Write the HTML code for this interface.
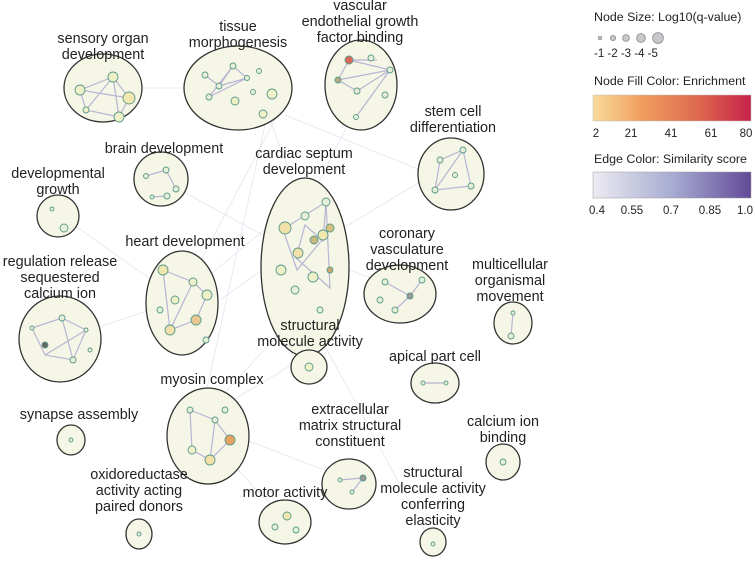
<!DOCTYPE html>
<html><head><meta charset="utf-8"><style>
body{margin:0;background:#fff}
svg text{font-family:"Liberation Sans",sans-serif;fill:#222}
</style></head><body>
<svg width="755" height="558" viewBox="0 0 755 558" xmlns="http://www.w3.org/2000/svg">
<defs>
<linearGradient id="g1" x1="0" x2="1"><stop offset="0" stop-color="#f9dc9c"/><stop offset="0.3" stop-color="#f0a060"/><stop offset="0.65" stop-color="#de6b50"/><stop offset="1" stop-color="#c8224a"/></linearGradient>
<linearGradient id="g2" x1="0" x2="1"><stop offset="0" stop-color="#ecebf1"/><stop offset="0.5" stop-color="#a8acd2"/><stop offset="1" stop-color="#624a98"/></linearGradient>
</defs>
<g stroke="#d8d8ea" stroke-width="0.8" opacity="0.7" fill="none">
<path d="M270 120 L300 200 M280 110 L180 300 M285 115 L420 170 M265 125 L200 420 M300 200 L180 300 M310 300 L200 420 M300 250 L400 290 M360 100 L310 200 M140 88 L190 88 M180 300 L60 340 M200 420 L300 360 M290 260 L440 170 M220 300 L290 250 M210 440 L285 520 M300 300 L430 540 M160 179 L290 250 M60 215 L180 300 M220 430 L350 480"/>
</g>
<g fill="#f6f6e6" stroke="#333" stroke-width="1.3">
<ellipse cx="103" cy="88" rx="39" ry="34"/>
<ellipse cx="238" cy="88" rx="54" ry="42"/>
<ellipse cx="361" cy="85" rx="36" ry="45"/>
<ellipse cx="451" cy="174" rx="33" ry="36"/>
<ellipse cx="161" cy="179" rx="27" ry="27"/>
<ellipse cx="58" cy="216" rx="21" ry="21"/>
<ellipse cx="305" cy="267" rx="44" ry="89"/>
<ellipse cx="400" cy="294" rx="36" ry="29"/>
<ellipse cx="513" cy="323" rx="19" ry="21"/>
<ellipse cx="182" cy="303" rx="36" ry="52"/>
<ellipse cx="60" cy="339" rx="41" ry="43"/>
<ellipse cx="309" cy="367" rx="18" ry="17"/>
<ellipse cx="435" cy="383" rx="24" ry="20"/>
<ellipse cx="208" cy="436" rx="41" ry="48"/>
<ellipse cx="71" cy="440" rx="14" ry="15"/>
<ellipse cx="349" cy="484" rx="27" ry="25"/>
<ellipse cx="503" cy="462" rx="17" ry="18"/>
<ellipse cx="139" cy="534" rx="13" ry="15"/>
<ellipse cx="285" cy="522" rx="26" ry="22"/>
<ellipse cx="433" cy="542" rx="13" ry="14"/>
</g>
<g stroke="#b8b4d4" stroke-width="1.2" fill="none">
<path d="M80 90 L113 77 L129 98 L119 117 L86 110 Z M80 90 L129 98 M113 77 L119 117 M86 110 L113 77"/>
<path d="M205 75 L219 86 L233 66 L247 78 L209 97 M219 86 L247 78 M233 66 L209 97"/>
<path d="M377 60 L349 60 L338 80 L357 91 L390 70 L356 117 M349 60 L390 70 M338 80 L390 70"/>
<path d="M146 176 L166 170 L176 189 M152 197 L167 196"/>
<path d="M285 228 L326 202 L330 288 L296 258 L305 225 L322 240 L297 270 L282 227 M326 202 L323 242"/>
<path d="M440 160 L463 150 L471 186 L435 190 L440 160 M463 150 L435 190"/>
<path d="M163 270 L193 282 L207 295 L196 320 L170 330 L163 270 M193 282 L170 330"/>
<path d="M32 328 L62 318 L86 330 L73 360 L45 355 L32 328 M62 318 L73 360 M45 355 L86 330"/>
<path d="M190 410 L215 420 L230 440 L210 460 L192 450 L190 410 M215 420 L210 460"/>
<path d="M385 282 L410 296 L395 310 M422 280 L410 296"/>
<path d="M423 383 L446 383 M513 313 L511 336 M340 480 L363 478 L352 492"/>
</g>
<g stroke="#5a9a8a" stroke-width="0.9">
<circle cx="80" cy="90" r="5" fill="#eef0c8"/><circle cx="113" cy="77" r="5" fill="#eef0c8"/><circle cx="129" cy="98" r="6" fill="#f1e7b0"/><circle cx="119" cy="117" r="5" fill="#eef0c8"/><circle cx="86" cy="110" r="3" fill="#eef0c8"/>
<circle cx="205" cy="75" r="3" fill="#e6f0d8"/><circle cx="219" cy="86" r="3" fill="#e6f0d8"/><circle cx="233" cy="66" r="3" fill="#e6f0d8"/><circle cx="247" cy="78" r="2.5" fill="#e6f0d8"/><circle cx="209" cy="97" r="3" fill="#e6f0d8"/><circle cx="259" cy="71" r="2.5" fill="#e6f0d8"/><circle cx="253" cy="92" r="2.5" fill="#e6f0d8"/><circle cx="272" cy="94" r="5" fill="#eef0c8"/><circle cx="235" cy="101" r="4" fill="#eef0c8"/><circle cx="263" cy="114" r="4" fill="#eef0c8"/>
<circle cx="349" cy="60" r="4" fill="#d96a5a"/><circle cx="371" cy="58" r="3" fill="#e6f0d8"/><circle cx="338" cy="80" r="3" fill="#b8a880"/><circle cx="357" cy="91" r="3" fill="#e6f0d8"/><circle cx="390" cy="70" r="3" fill="#e6f0d8"/><circle cx="356" cy="117" r="2.5" fill="#e6f0d8"/><circle cx="385" cy="95" r="3" fill="#e6f0d8"/>
<circle cx="146" cy="176" r="2.5" fill="#e6f0d8"/><circle cx="166" cy="170" r="3" fill="#e6f0d8"/><circle cx="176" cy="189" r="3" fill="#e6f0d8"/><circle cx="152" cy="197" r="2" fill="#e6f0d8"/><circle cx="167" cy="196" r="3" fill="#e6f0d8"/>
<circle cx="52" cy="209" r="2" fill="#e6f0d8"/><circle cx="64" cy="228" r="4" fill="#e6f0d8"/>
<circle cx="326" cy="202" r="4" fill="#e6f0d8"/><circle cx="305" cy="216" r="4" fill="#e6f0d8"/><circle cx="285" cy="228" r="6" fill="#f1e0a8"/><circle cx="330" cy="228" r="4" fill="#d8c080"/><circle cx="323" cy="235" r="5" fill="#f1e7b0"/><circle cx="314" cy="240" r="4" fill="#c8b880"/><circle cx="298" cy="253" r="5" fill="#f1e0a8"/><circle cx="281" cy="270" r="5" fill="#eef0c8"/><circle cx="330" cy="270" r="3" fill="#c8a870"/><circle cx="313" cy="277" r="5" fill="#eef0c8"/><circle cx="295" cy="290" r="4" fill="#e6f0d8"/><circle cx="320" cy="310" r="3" fill="#e6f0d8"/>
<circle cx="440" cy="160" r="3" fill="#e6f0d8"/><circle cx="463" cy="150" r="3" fill="#e6f0d8"/><circle cx="471" cy="186" r="3" fill="#e6f0d8"/><circle cx="435" cy="190" r="3" fill="#e6f0d8"/><circle cx="455" cy="175" r="2.5" fill="#e6f0d8"/>
<circle cx="163" cy="270" r="5" fill="#f1e7b0"/><circle cx="193" cy="282" r="4" fill="#eef0c8"/><circle cx="207" cy="295" r="5" fill="#eef0c8"/><circle cx="196" cy="320" r="5" fill="#e8c890"/><circle cx="170" cy="330" r="5" fill="#f1e0a8"/><circle cx="175" cy="300" r="4" fill="#eef0c8"/><circle cx="206" cy="340" r="3" fill="#e6f0d8"/><circle cx="160" cy="310" r="3" fill="#e6f0d8"/>
<circle cx="32" cy="328" r="2" fill="#e6f0d8"/><circle cx="62" cy="318" r="3" fill="#e6f0d8"/><circle cx="86" cy="330" r="2" fill="#e6f0d8"/><circle cx="73" cy="360" r="3" fill="#e6f0d8"/><circle cx="45" cy="345" r="3" fill="#666"/><circle cx="90" cy="350" r="2" fill="#e6f0d8"/>
<circle cx="309" cy="367" r="4" fill="#eef0c8"/>
<circle cx="385" cy="282" r="3" fill="#e6f0d8"/><circle cx="410" cy="296" r="3" fill="#999"/><circle cx="395" cy="310" r="3" fill="#e6f0d8"/><circle cx="422" cy="280" r="3" fill="#e6f0d8"/><circle cx="380" cy="300" r="3" fill="#e6f0d8"/>
<circle cx="513" cy="313" r="2" fill="#e6f0d8"/><circle cx="511" cy="336" r="3" fill="#e6f0d8"/>
<circle cx="423" cy="383" r="2" fill="#e6f0d8"/><circle cx="446" cy="383" r="2" fill="#e6f0d8"/>
<circle cx="190" cy="410" r="3" fill="#e6f0d8"/><circle cx="215" cy="420" r="3" fill="#e6f0d8"/><circle cx="230" cy="440" r="5" fill="#e8a060"/><circle cx="210" cy="460" r="5" fill="#f1e0a8"/><circle cx="192" cy="450" r="4" fill="#eef0c8"/><circle cx="225" cy="410" r="3" fill="#e6f0d8"/>
<circle cx="71" cy="440" r="2" fill="#e6f0d8"/>
<circle cx="340" cy="480" r="2" fill="#e6f0d8"/><circle cx="363" cy="478" r="3" fill="#999"/><circle cx="352" cy="492" r="2" fill="#e6f0d8"/>
<circle cx="503" cy="462" r="3" fill="#e6f0d8"/><circle cx="139" cy="534" r="2" fill="#e6f0d8"/>
<circle cx="287" cy="516" r="4" fill="#f1e7b0"/><circle cx="275" cy="527" r="3" fill="#e6f0d8"/><circle cx="296" cy="530" r="3" fill="#e6f0d8"/>
<circle cx="433" cy="544" r="2" fill="#e6f0d8"/>
</g>
<g font-size="14.4" text-anchor="middle">
<text x="103" y="43">sensory organ</text><text x="103" y="59">development</text>
<text x="238" y="31">tissue</text><text x="238" y="47">morphogenesis</text>
<text x="360" y="10">vascular</text><text x="360" y="26">endothelial growth</text><text x="360" y="42">factor binding</text>
<text x="453" y="116">stem cell</text><text x="453" y="132">differentiation</text>
<text x="164" y="153">brain development</text>
<text x="58" y="178">developmental</text><text x="58" y="194">growth</text>
<text x="304" y="158">cardiac septum</text><text x="304" y="174">development</text>
<text x="407" y="238">coronary</text><text x="407" y="254">vasculature</text><text x="407" y="270">development</text>
<text x="510" y="269">multicellular</text><text x="510" y="285">organismal</text><text x="510" y="301">movement</text>
<text x="185" y="246">heart development</text>
<text x="60" y="266">regulation release</text><text x="60" y="282">sequestered</text><text x="60" y="298">calcium ion</text>
<text x="310" y="330">structural</text><text x="310" y="346">molecule activity</text>
<text x="435" y="361">apical part cell</text>
<text x="212" y="384">myosin complex</text>
<text x="350" y="414">extracellular</text><text x="350" y="430">matrix structural</text><text x="350" y="446">constituent</text>
<text x="503" y="426">calcium ion</text><text x="503" y="442">binding</text>
<text x="79" y="419">synapse assembly</text>
<text x="139" y="479">oxidoreductase</text><text x="139" y="495">activity acting</text><text x="139" y="511">paired donors</text>
<text x="285" y="497">motor activity</text>
<text x="433" y="477">structural</text><text x="433" y="493">molecule activity</text><text x="433" y="509">conferring</text><text x="433" y="525">elasticity</text>
</g>
<g font-size="12.4">
<text x="594" y="21">Node Size: Log10(q-value)</text>
<g fill="#c8c8cc" stroke="#888" stroke-width="0.8">
<circle cx="600" cy="38" r="1.8"/><circle cx="613" cy="38" r="2.6"/><circle cx="626" cy="38" r="3.4"/><circle cx="641" cy="38" r="4.4"/><circle cx="658" cy="38" r="5.4"/>
</g>
<text x="594" y="57" font-size="11.5">-1 -2 -3 -4 -5</text>
<text x="594" y="85">Node Fill Color: Enrichment</text>
<rect x="593" y="95" width="158" height="26" fill="url(#g1)" stroke="#bbb" stroke-width="0.5"/>
<g font-size="11.5" text-anchor="middle"><text x="596" y="137">2</text><text x="631" y="137">21</text><text x="671" y="137">41</text><text x="711" y="137">61</text><text x="746" y="137">80</text></g>
<text x="594" y="163">Edge Color: Similarity score</text>
<rect x="593" y="172" width="158" height="26" fill="url(#g2)" stroke="#999" stroke-width="0.5"/>
<g font-size="11.5" text-anchor="middle"><text x="597" y="214">0.4</text><text x="632" y="214">0.55</text><text x="671" y="214">0.7</text><text x="710" y="214">0.85</text><text x="745" y="214">1.0</text></g>
</g>
</svg>
</body></html>
